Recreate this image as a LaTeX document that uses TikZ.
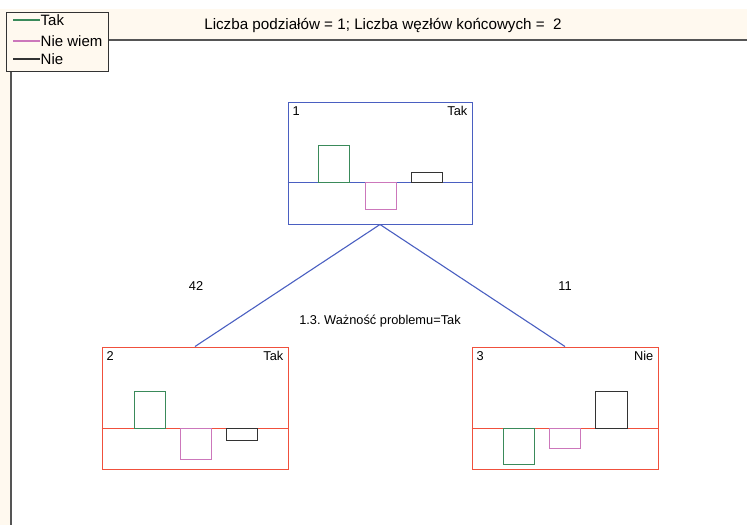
\documentclass[tikz,border=0pt]{standalone}
\usepackage{fontspec}
\setmainfont{Liberation Sans}
\frenchspacing
\definecolor{cream}{HTML}{FFF9EF}
\definecolor{frame}{HTML}{555555}
\definecolor{nblue}{HTML}{4A5FC1}
\definecolor{nred}{HTML}{F0503C}
\definecolor{bgreen}{HTML}{3A8A5A}
\definecolor{bpink}{HTML}{CC77BB}
\definecolor{bblack}{HTML}{333333}
\begin{document}
\begin{tikzpicture}[x=1pt,y=-1pt,
  treebox/.style={draw,rectangle,inner sep=0pt,minimum width=186pt,minimum height=122pt,line width=1pt},
  bar/.style={line width=1pt},
  lbl/.style={inner sep=0pt,font=\fontsize{12.8}{14}\selectfont},
  leg/.style={inner sep=0pt,anchor=west,font=\fontsize{15}{16}\selectfont},
  conn/.style={draw=nblue,line width=1.1pt}]
\useasboundingbox (0,0) rectangle (747,525);
% background strips
\fill[cream] (0,9) rectangle (747,40);
\fill[cream] (0,40) rectangle (11,525);
\draw[frame,line width=1.4pt] (11,40) -- (747,40);
\draw[frame,line width=1.4pt] (11,40) -- (11,525);
% legend
\node[draw=bblack,fill=cream,line width=1.1pt,rectangle,inner sep=0pt,minimum width=102pt,minimum height=59pt,anchor=north west] (legend) at (6,12) {};
\draw[bgreen,line width=1.1pt] (13,20) -- (40,20);
\draw[bpink,line width=1.1pt] (13,41) -- (40,41);
\draw[bblack,line width=1.1pt] (13,59) -- (40,59);
\node[leg] (lt) at (40.5,20) {Tak};
\node[leg] (lnw) at (40.5,41) {Nie wiem};
\node[leg] (ln) at (40.5,59) {Nie};
% title
\node[inner sep=0pt,font=\fontsize{15.2}{16}\selectfont] (title) at (383,25) {Liczba podziałów = 1; Liczba węzłów końcowych =~~2};
% nodes
\node[treebox,draw=nblue,minimum width=184pt] (n1) at (380,163) {};
\node[treebox,draw=nred] (n2) at (195,408) {};
\node[treebox,draw=nred] (n3) at (565,408) {};
% midlines
\draw[nblue,line width=1pt] (n1.west |- 0,182) -- (n1.east |- 0,182);
\draw[nred,line width=1pt] (n2.west |- 0,428) -- (n2.east |- 0,428);
\draw[nred,line width=1pt] (n3.west |- 0,428) -- (n3.east |- 0,428);
% labels
\node[lbl,anchor=north west] (n1id) at ([xshift=5pt,yshift=-5pt]n1.north west) {1};
\node[lbl,anchor=north east] (n1c) at ([xshift=-5pt,yshift=-5pt]n1.north east) {Tak};
\node[lbl,anchor=north west] (n2id) at ([xshift=5pt,yshift=-5pt]n2.north west) {2};
\node[lbl,anchor=north east] (n2c) at ([xshift=-5pt,yshift=-5pt]n2.north east) {Tak};
\node[lbl,anchor=north west] (n3id) at ([xshift=5pt,yshift=-5pt]n3.north west) {3};
\node[lbl,anchor=north east] (n3c) at ([xshift=-5pt,yshift=-5pt]n3.north east) {Nie};
% bars node 1
\draw[bar,bgreen] (318,145) rectangle (349,182);
\draw[bar,bpink] (365,182) rectangle (396,209);
\draw[bar,bblack] (411,172) rectangle (442,182);
% bars node 2
\draw[bar,bgreen] (134,391) rectangle (165,428);
\draw[bar,bpink] (180,428) rectangle (211,459);
\draw[bar,bblack] (226,428) rectangle (257,440);
% bars node 3
\draw[bar,bgreen] (503,428) rectangle (534,464);
\draw[bar,bpink] (549,428) rectangle (580,448);
\draw[bar,bblack] (595,391) rectangle (627,428);
% connectors
\draw[conn] (n1.south) -- (n2.north);
\draw[conn] (n1.south) -- (n3.north);
\node[lbl] (c42) at (196,286) {42};
\node[lbl] (c11) at (565,286) {11};
\node[lbl] (split) at (380,321) {1.3. Ważność problemu=Tak};
\end{tikzpicture}
\end{document}
